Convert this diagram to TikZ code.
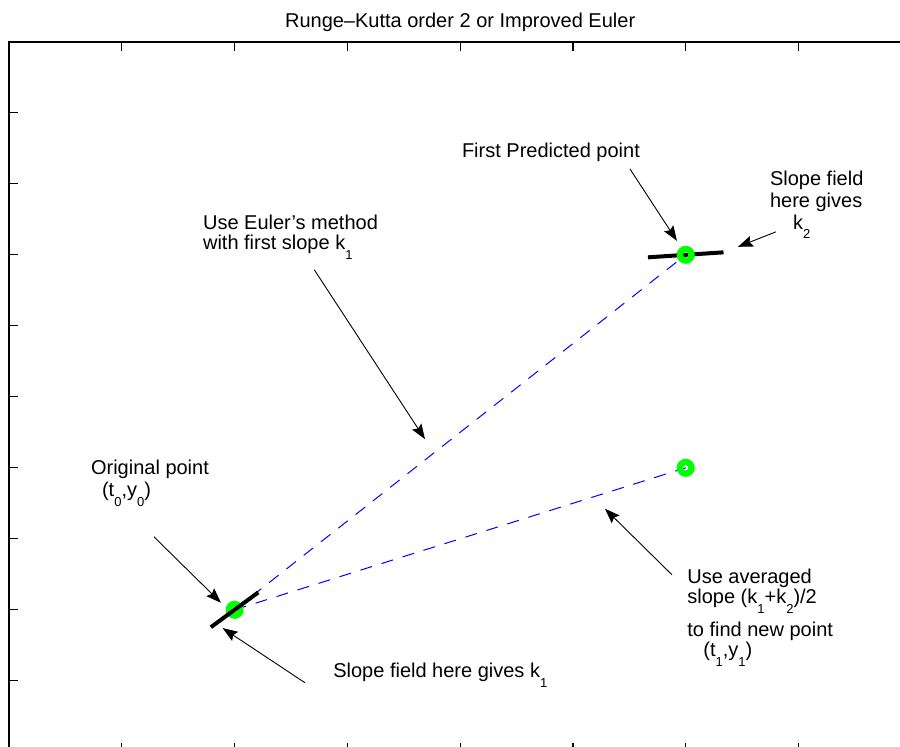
\documentclass[tikz,border=0pt]{standalone}
\usepackage{fontspec}
\setmainfont{Liberation Sans}
\usetikzlibrary{arrows.meta,backgrounds}
\colorlet{rkgreen}{green}
\colorlet{rkblue}{blue}
\newcommand{\sbs}[1]{\smash{\raisebox{-4.7pt}{\fontsize{6.5}{7}\selectfont #1}}}
\tikzset{
  rkaxis/.style={line width=0.8pt},
  rktick/.style={line width=0.6pt},
  rkpoint/.style={circle,draw=rkgreen,line width=3.2pt,
                  minimum size=5.8pt,inner sep=0pt},
  rkslope/.style={line width=2pt},
  rkstep/.style={rkblue,line width=0.5pt,dash pattern=on 6pt off 5pt},
  rkarrow/.style={-{Stealth[length=7.5pt,width=5.5pt,inset=1.2pt]},line width=0.45pt},
  rklabel/.style={font=\fontsize{10}{11}\selectfont,align=left,
                  inner sep=0pt,anchor=base west}
}

\begin{document}
\begin{tikzpicture}[x=56.4pt,y=35.5pt]
  \useasboundingbox (-0.08,0.07) rectangle (7.9,10.59);

  \draw[rkaxis] (0,0) rectangle (8,10);
  \foreach \xt in {1,...,7}{
    \draw[rktick] (\xt,10) -- ++(0,-4.5pt);
    \draw[rktick] (\xt,0) -- ++(0,4.5pt);
  }
  \foreach \yt in {1,...,9}{
    \draw[rktick] (0,\yt) -- ++(4.5pt,0);
    \draw[rktick] (8,\yt) -- ++(-4.5pt,0);
  }
  \node[font=\fontsize{10}{11}\selectfont,anchor=base,inner sep=0pt] (title)
    at (4,10.207) {Runge--Kutta order 2 or Improved Euler};

  \node[rkpoint] (orig) at (2,2) {};
  \node[rkpoint] (pred) at (6,7) {};
  \node[rkpoint] (new) at (6,4) {};

  \begin{scope}[on background layer]
    \draw[rkstep] (orig.center) -- (pred.center);
    \draw[rkstep] (orig.center) -- (new.center);
    \draw[rkslope] ([shift={(-0.335,-0.035)}]pred.center)
      -- ([shift={(0.335,0.035)}]pred.center);
  \end{scope}
  \draw[rkslope] ([shift={(-0.21,-0.245)}]orig.center)
    -- ([shift={(0.21,0.245)}]orig.center);

  \node[rklabel] (origlbl) at (0.724,3.592)
    {Original point\\\hspace*{5.5pt}(t\sbs{0},y\sbs{0})};
  \node[rklabel] (eulerlbl) at (1.717,7.070)
    {Use Euler’s method\\[-1pt]with first slope k\sbs{1}};
  \node[rklabel] (predlbl) at (4.013,8.376) {First Predicted point};
  \node[rklabel] (ktwolbl) at (6.744,7.356)
    {Slope field\\here gives\\\hspace*{11.5pt}k\sbs{2}};
  \node[rklabel] (avglbl) at (6.011,1.338)
    {Use averaged\\[-1pt]slope (k\sbs{1}+k\sbs{2})/2\\[5.5pt]to find new point\\[-1pt]\hspace*{8pt}(t\sbs{1},y\sbs{1})};
  \node[rklabel] (konelbl) at (2.872,1.042) {Slope field here gives k\sbs{1}};

  \coordinate (origfrom) at (1.285,3.028);
  \coordinate (origto) at (1.879,2.099);
  \coordinate (konefrom) at (2.624,0.972);
  \coordinate (koneto) at (1.894,1.742);
  \coordinate (eulerfrom) at (2.707,6.789);
  \coordinate (eulerto) at (3.688,4.404);
  \coordinate (predfrom) at (5.505,8.211);
  \coordinate (predto) at (5.922,7.197);
  \coordinate (ktwofrom) at (6.800,7.324);
  \coordinate (ktwoto) at (6.463,7.113);
  \coordinate (avgfrom) at (5.878,2.493);
  \coordinate (avgto) at (5.284,3.423);

  \draw[rkarrow] (origfrom) -- (origto);
  \draw[rkarrow] (konefrom) -- (koneto);
  \draw[rkarrow] (eulerfrom) -- (eulerto);
  \draw[rkarrow] (predfrom) -- (predto);
  \draw[rkarrow] (ktwofrom) -- (ktwoto);
  \draw[rkarrow] (avgfrom) -- (avgto);
\end{tikzpicture}
\end{document}
